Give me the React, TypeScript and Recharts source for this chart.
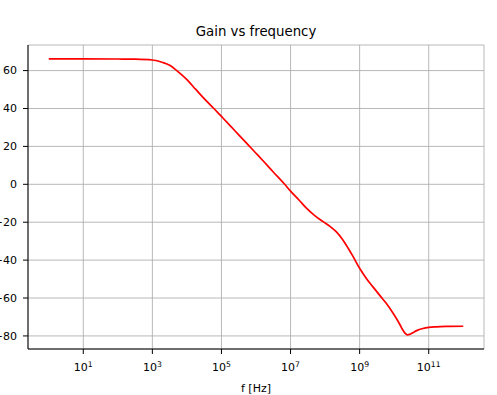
import type { FC } from 'react';
import { CartesianGrid, Line, LineChart, XAxis, YAxis } from 'recharts';

// log10(frequency in Hz)
const logFreq = [
  0, 1, 2, 2.5, 3, 3.3, 3.5, 3.75, 4, 4.25, 4.5, 4.78, 5, 5.25, 5.5, 5.82, 6, 6.25, 6.5, 6.83, 7, 7.25,
  7.46, 7.7, 7.94, 8.15, 8.32, 8.5, 8.61, 8.8, 9, 9.2, 9.38, 9.6, 9.77, 9.95, 10.06, 10.18, 10.25, 10.32,
  10.38, 10.45, 10.54, 10.65, 10.83, 11, 11.21, 11.5, 12,
];
// gain in dB
const gainDb = [
  66.2, 66.2, 66.1, 66.0, 65.6, 64.3, 62.8, 59.3, 55.2, 50.2, 45.2, 40, 35.8, 31, 26.1, 19.9, 16.4, 11.5, 6.5, 0,
  -3.6, -8.4, -12.6, -16.5, -19.7, -22.3, -25, -29, -32, -37.8, -44.3, -49.8, -54, -59, -62.8, -67.5, -70.7,
  -74.5, -76.9, -78.7, -79.4, -79.2, -78.3, -77.2, -76.1, -75.5, -75.2, -75.0, -74.9,
];
const xTicks = [1, 3, 5, 7, 9, 11];
const yTicks = [-80, -60, -40, -20, 0, 20, 40, 60];

const data = logFreq.map((f, i) => ({ f, gain: gainDb[i] }));

const font = '"DejaVu Sans", sans-serif';
const tickStyle = { fill: '#000', fontSize: 11, fontFamily: font } as const;

const PowerTick: FC<any> = ({ x, y, payload }) => (
  <text x={x} y={y + 15} textAnchor="middle" fill="#000" fontFamily={font} fontSize={11}>
    <tspan>10</tspan>
    <tspan dy={-4.5} fontSize={7.7}>
      {payload.value}
    </tspan>
  </text>
);

const App: FC = () => {
  return (
    <div style={{ position: 'absolute', left: 0, top: 0, width: 497, height: 395, background: '#fff' }}>
      <div
        style={{
          position: 'absolute',
          left: 28,
          width: 456,
          top: 24,
          textAlign: 'center',
          fontFamily: font,
          fontSize: 13.3,
          lineHeight: '16px',
          color: '#000',
        }}
      >
        Gain vs frequency
      </div>
      <LineChart width={497} height={395} data={data} margin={{ top: 45, right: 13, bottom: 0, left: 0 }}>
        <CartesianGrid stroke="#b0b0b0" strokeWidth={0.9} />
        <XAxis
          dataKey="f"
          type="number"
          domain={[-0.6, 12.6]}
          ticks={xTicks}
          allowDataOverflow
          height={46}
          tickSize={5}
          tick={<PowerTick />}
          tickLine={{ stroke: '#000' }}
          axisLine={{ stroke: '#000' }}
          label={{ value: 'f [Hz]', position: 'insideBottom', offset: 3, fill: '#000', fontSize: 11, fontFamily: font }}
        />
        <XAxis
          xAxisId="top"
          orientation="top"
          type="number"
          domain={[-0.6, 12.6]}
          height={0}
          tick={false}
          tickLine={false}
          axisLine={{ stroke: '#000' }}
        />
        <YAxis
          type="number"
          domain={[-86.9, 73.5]}
          ticks={yTicks}
          allowDataOverflow
          width={28}
          tickSize={5}
          tickMargin={6}
          tick={tickStyle}
          tickLine={{ stroke: '#000' }}
          axisLine={{ stroke: '#000' }}
          tickFormatter={(v: number) => (v < 0 ? `\u2212${-v}` : `${v}`)}
        />
        <YAxis
          yAxisId="right"
          orientation="right"
          type="number"
          domain={[-86.9, 73.5]}
          width={0}
          tick={false}
          tickLine={false}
          axisLine={{ stroke: '#000' }}
        />
        <Line type="monotone" dataKey="gain" stroke="#ff0000" strokeWidth={1.7} dot={false} isAnimationActive={false} />
      </LineChart>
    </div>
  );
};

export default App;
